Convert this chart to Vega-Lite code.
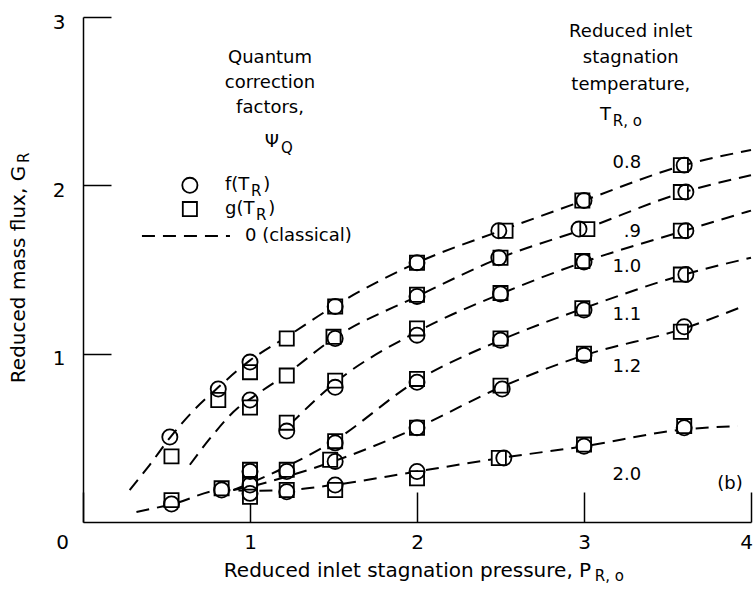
{
  "$schema": "https://vega.github.io/schema/vega-lite/v6.json",
  "width": 668,
  "height": 505,
  "autosize": {"type": "none"},
  "padding": {"left": 83, "top": 17, "right": 5, "bottom": 71},
  "background": "white",
  "config": {"view": {"stroke": null}, "font": "DejaVu Sans"},
  "datasets": {
    "curves": [
      {"s": "0.8", "P": 0.28, "G": 0.19}, {"s": "0.8", "P": 0.40, "G": 0.34}, {"s": "0.8", "P": 0.52, "G": 0.50}, {"s": "0.8", "P": 0.66, "G": 0.66}, {"s": "0.8", "P": 0.81, "G": 0.80}, {"s": "0.8", "P": 1.0, "G": 0.96}, {"s": "0.8", "P": 1.22, "G": 1.10}, {"s": "0.8", "P": 1.5, "G": 1.28}, {"s": "0.8", "P": 2.0, "G": 1.54}, {"s": "0.8", "P": 2.5, "G": 1.73}, {"s": "0.8", "P": 3.0, "G": 1.91}, {"s": "0.8", "P": 3.6, "G": 2.12}, {"s": "0.8", "P": 4.0, "G": 2.21},
      {"s": "0.9", "P": 0.64, "G": 0.34}, {"s": "0.9", "P": 0.78, "G": 0.52}, {"s": "0.9", "P": 0.93, "G": 0.68}, {"s": "0.9", "P": 1.0, "G": 0.73}, {"s": "0.9", "P": 1.22, "G": 0.88}, {"s": "0.9", "P": 1.5, "G": 1.09}, {"s": "0.9", "P": 2.0, "G": 1.34}, {"s": "0.9", "P": 2.5, "G": 1.57}, {"s": "0.9", "P": 3.0, "G": 1.74}, {"s": "0.9", "P": 3.6, "G": 1.96}, {"s": "0.9", "P": 4.0, "G": 2.06},
      {"s": "1.0", "P": 1.24, "G": 0.58}, {"s": "1.0", "P": 1.5, "G": 0.82}, {"s": "1.0", "P": 2.0, "G": 1.13}, {"s": "1.0", "P": 2.5, "G": 1.355}, {"s": "1.0", "P": 3.0, "G": 1.545}, {"s": "1.0", "P": 3.6, "G": 1.73}, {"s": "1.0", "P": 4.0, "G": 1.85},
      {"s": "1.1", "P": 0.9, "G": 0.19}, {"s": "1.1", "P": 1.0, "G": 0.23}, {"s": "1.1", "P": 1.22, "G": 0.33}, {"s": "1.1", "P": 1.5, "G": 0.48}, {"s": "1.1", "P": 2.0, "G": 0.84}, {"s": "1.1", "P": 2.5, "G": 1.08}, {"s": "1.1", "P": 3.0, "G": 1.27}, {"s": "1.1", "P": 3.6, "G": 1.47}, {"s": "1.1", "P": 4.0, "G": 1.57},
      {"s": "1.2", "P": 0.9, "G": 0.19}, {"s": "1.2", "P": 1.0, "G": 0.21}, {"s": "1.2", "P": 1.22, "G": 0.27}, {"s": "1.2", "P": 1.5, "G": 0.36}, {"s": "1.2", "P": 2.0, "G": 0.56}, {"s": "1.2", "P": 2.5, "G": 0.80}, {"s": "1.2", "P": 3.0, "G": 0.99}, {"s": "1.2", "P": 3.6, "G": 1.15}, {"s": "1.2", "P": 3.95, "G": 1.28},
      {"s": "2.0", "P": 0.32, "G": 0.06}, {"s": "2.0", "P": 0.55, "G": 0.11}, {"s": "2.0", "P": 0.83, "G": 0.19}, {"s": "2.0", "P": 1.0, "G": 0.185}, {"s": "2.0", "P": 1.22, "G": 0.19}, {"s": "2.0", "P": 1.5, "G": 0.22}, {"s": "2.0", "P": 2.0, "G": 0.30}, {"s": "2.0", "P": 2.5, "G": 0.38}, {"s": "2.0", "P": 3.0, "G": 0.45}, {"s": "2.0", "P": 3.6, "G": 0.55}, {"s": "2.0", "P": 3.92, "G": 0.57}
    ],
    "markers": [
      {"s": "0.8", "k": "f", "P": 0.52, "G": 0.505}, {"s": "0.8", "k": "g", "P": 0.53, "G": 0.39}, {"s": "0.8", "k": "f", "P": 0.81, "G": 0.79}, {"s": "0.8", "k": "g", "P": 0.81, "G": 0.725}, {"s": "0.8", "k": "f", "P": 1.0, "G": 0.95}, {"s": "0.8", "k": "g", "P": 1.0, "G": 0.89}, {"s": "0.8", "k": "g", "P": 1.22, "G": 1.09}, {"s": "0.8", "k": "f", "P": 1.51, "G": 1.28}, {"s": "0.8", "k": "g", "P": 1.51, "G": 1.28}, {"s": "0.8", "k": "f", "P": 2.0, "G": 1.54}, {"s": "0.8", "k": "g", "P": 2.0, "G": 1.54}, {"s": "0.8", "k": "f", "P": 2.49, "G": 1.73}, {"s": "0.8", "k": "g", "P": 2.53, "G": 1.73}, {"s": "0.8", "k": "f", "P": 3.0, "G": 1.91}, {"s": "0.8", "k": "g", "P": 2.99, "G": 1.91}, {"s": "0.8", "k": "f", "P": 3.6, "G": 2.12}, {"s": "0.8", "k": "g", "P": 3.58, "G": 2.12},
      {"s": "0.9", "k": "f", "P": 1.0, "G": 0.725}, {"s": "0.9", "k": "g", "P": 1.0, "G": 0.68}, {"s": "0.9", "k": "g", "P": 1.22, "G": 0.87}, {"s": "0.9", "k": "f", "P": 1.51, "G": 1.09}, {"s": "0.9", "k": "g", "P": 1.5, "G": 1.10}, {"s": "0.9", "k": "f", "P": 2.0, "G": 1.34}, {"s": "0.9", "k": "g", "P": 2.0, "G": 1.35}, {"s": "0.9", "k": "f", "P": 2.49, "G": 1.57}, {"s": "0.9", "k": "g", "P": 2.5, "G": 1.57}, {"s": "0.9", "k": "f", "P": 2.97, "G": 1.74}, {"s": "0.9", "k": "g", "P": 3.02, "G": 1.74}, {"s": "0.9", "k": "g", "P": 3.58, "G": 1.96}, {"s": "0.9", "k": "f", "P": 3.61, "G": 1.96},
      {"s": "1.0", "k": "f", "P": 1.22, "G": 0.54}, {"s": "1.0", "k": "g", "P": 1.22, "G": 0.59}, {"s": "1.0", "k": "f", "P": 1.51, "G": 0.80}, {"s": "1.0", "k": "g", "P": 1.51, "G": 0.84}, {"s": "1.0", "k": "f", "P": 2.0, "G": 1.11}, {"s": "1.0", "k": "g", "P": 2.0, "G": 1.15}, {"s": "1.0", "k": "f", "P": 2.5, "G": 1.355}, {"s": "1.0", "k": "g", "P": 2.5, "G": 1.36}, {"s": "1.0", "k": "f", "P": 3.0, "G": 1.545}, {"s": "1.0", "k": "g", "P": 2.99, "G": 1.55}, {"s": "1.0", "k": "g", "P": 3.58, "G": 1.73}, {"s": "1.0", "k": "f", "P": 3.61, "G": 1.73},
      {"s": "1.1", "k": "f", "P": 1.0, "G": 0.30}, {"s": "1.1", "k": "g", "P": 1.0, "G": 0.31}, {"s": "1.1", "k": "f", "P": 1.22, "G": 0.30}, {"s": "1.1", "k": "g", "P": 1.22, "G": 0.31}, {"s": "1.1", "k": "f", "P": 1.51, "G": 0.47}, {"s": "1.1", "k": "g", "P": 1.51, "G": 0.48}, {"s": "1.1", "k": "f", "P": 2.0, "G": 0.83}, {"s": "1.1", "k": "g", "P": 2.0, "G": 0.85}, {"s": "1.1", "k": "f", "P": 2.5, "G": 1.08}, {"s": "1.1", "k": "g", "P": 2.5, "G": 1.09}, {"s": "1.1", "k": "f", "P": 3.0, "G": 1.26}, {"s": "1.1", "k": "g", "P": 2.99, "G": 1.27}, {"s": "1.1", "k": "g", "P": 3.58, "G": 1.47}, {"s": "1.1", "k": "f", "P": 3.61, "G": 1.47},
      {"s": "1.2", "k": "f", "P": 1.0, "G": 0.22}, {"s": "1.2", "k": "g", "P": 1.0, "G": 0.22}, {"s": "1.2", "k": "f", "P": 1.51, "G": 0.36}, {"s": "1.2", "k": "g", "P": 1.48, "G": 0.37}, {"s": "1.2", "k": "f", "P": 2.0, "G": 0.56}, {"s": "1.2", "k": "g", "P": 2.0, "G": 0.56}, {"s": "1.2", "k": "g", "P": 2.5, "G": 0.81}, {"s": "1.2", "k": "f", "P": 2.51, "G": 0.79}, {"s": "1.2", "k": "f", "P": 3.0, "G": 0.99}, {"s": "1.2", "k": "g", "P": 3.0, "G": 1.0}, {"s": "1.2", "k": "g", "P": 3.58, "G": 1.13}, {"s": "1.2", "k": "f", "P": 3.6, "G": 1.16},
      {"s": "2.0", "k": "f", "P": 0.53, "G": 0.107}, {"s": "2.0", "k": "g", "P": 0.53, "G": 0.13}, {"s": "2.0", "k": "g", "P": 0.83, "G": 0.20}, {"s": "2.0", "k": "f", "P": 0.83, "G": 0.19}, {"s": "2.0", "k": "f", "P": 1.0, "G": 0.17}, {"s": "2.0", "k": "g", "P": 1.0, "G": 0.15}, {"s": "2.0", "k": "f", "P": 1.22, "G": 0.18}, {"s": "2.0", "k": "g", "P": 1.22, "G": 0.19}, {"s": "2.0", "k": "f", "P": 1.51, "G": 0.22}, {"s": "2.0", "k": "g", "P": 1.51, "G": 0.19}, {"s": "2.0", "k": "f", "P": 2.0, "G": 0.30}, {"s": "2.0", "k": "g", "P": 2.0, "G": 0.26}, {"s": "2.0", "k": "g", "P": 2.49, "G": 0.38}, {"s": "2.0", "k": "f", "P": 2.52, "G": 0.38}, {"s": "2.0", "k": "f", "P": 3.0, "G": 0.45}, {"s": "2.0", "k": "g", "P": 3.0, "G": 0.46}, {"s": "2.0", "k": "f", "P": 3.6, "G": 0.56}, {"s": "2.0", "k": "g", "P": 3.6, "G": 0.57}
    ],
    "legendMarks": [
      {"k": "f", "P": 0.64, "G": 2.0},
      {"k": "g", "P": 0.64, "G": 1.859}
    ],
    "legendLine": [{"P": 0.353, "P2": 0.88, "G": 1.699}],
    "centerText": [
      {"P": 1.12, "G": 2.757, "text": "Quantum"},
      {"P": 1.12, "G": 2.608, "text": "correction"},
      {"P": 1.12, "G": 2.459, "text": "factors,"},
      {"P": 1.13, "G": 2.257, "text": "Ψ"},
      {"P": 3.28, "G": 2.911, "text": "Reduced inlet"},
      {"P": 3.28, "G": 2.757, "text": "stagnation"},
      {"P": 3.28, "G": 2.596, "text": "temperature,"},
      {"P": 3.257, "G": 2.133, "text": "0.8"},
      {"P": 3.29, "G": 1.723, "text": ".9"},
      {"P": 3.257, "G": 1.515, "text": "1.0"},
      {"P": 3.257, "G": 1.23, "text": "1.1"},
      {"P": 3.257, "G": 0.921, "text": "1.2"},
      {"P": 3.257, "G": 0.279, "text": "2.0"},
      {"P": 3.874, "G": 0.226, "text": "(b)"}
    ],
    "leftText": [
      {"P": 0.85, "G": 2.0, "text": "f(T"},
      {"P": 1.08, "G": 2.0, "text": ")"},
      {"P": 0.85, "G": 1.859, "text": "g(T"},
      {"P": 1.11, "G": 1.859, "text": ")"},
      {"P": 0.97, "G": 1.699, "text": "0 (classical)"},
      {"P": 3.096, "G": 2.418, "text": "T"}
    ],
    "subText": [
      {"P": 1.006, "G": 2.0, "text": "R"},
      {"P": 1.036, "G": 1.859, "text": "R"},
      {"P": 1.185, "G": 2.257, "text": "Q"},
      {"P": 3.172, "G": 2.418, "text": "R, o"},
      {"P": 3.065, "G": -0.285, "text": "R, o"}
    ],
    "ySub": [{"P": -0.353, "G": 2.133, "text": "R"}]
  },
  "encoding": {
    "x": {
      "field": "P", "type": "quantitative",
      "scale": {"domain": [0, 4], "nice": false, "zero": false},
      "axis": {
        "title": "Reduced inlet stagnation pressure, P",
        "values": [0, 1, 2, 3, 4],
        "grid": false,
        "domainColor": "black", "domainWidth": 1.5,
        "tickColor": "black", "tickWidth": 1.5, "tickSize": -30,
        "labelPadding": 40, "labelFont": "DejaVu Sans", "labelFontSize": 20, "labelColor": "black",
        "labelOverlap": false, "labelFlush": false,
        "labelOffset": {"condition": [{"test": "datum.value == 0", "value": -21}, {"test": "datum.value == 4", "value": -5}], "value": 0},
        "titleFont": "DejaVu Sans", "titleFontSize": 20, "titleFontWeight": "normal", "titleColor": "black",
        "titleX": 324, "titleY": 48, "titleBaseline": "middle", "titleAlign": "center"
      }
    },
    "y": {
      "field": "G", "type": "quantitative",
      "scale": {"domain": [0, 3], "nice": false},
      "axis": {
        "title": "Reduced mass flux, G",
        "values": [1, 2, 3],
        "grid": false,
        "domainColor": "black", "domainWidth": 1.5,
        "tickColor": "black", "tickWidth": 1.5, "tickSize": -28,
        "labelPadding": 46, "labelFont": "DejaVu Sans", "labelFontSize": 20, "labelColor": "black",
        "labelOverlap": false, "labelFlush": false, "labelOffset": 5,
        "titleFont": "DejaVu Sans", "titleFontSize": 20, "titleFontWeight": "normal", "titleColor": "black",
        "titleX": -65, "titleY": 257, "titleBaseline": "middle", "titleAlign": "center", "titleAngle": 270
      }
    }
  },
  "layer": [
    {
      "data": {"name": "curves"},
      "mark": {"type": "line", "interpolate": "monotone", "color": "black", "strokeWidth": 2, "strokeDash": [13, 8]},
      "encoding": {"detail": {"field": "s"}}
    },
    {
      "data": {"name": "legendLine"},
      "mark": {"type": "rule", "color": "black", "strokeWidth": 2, "strokeDash": [13, 8]},
      "encoding": {"x2": {"field": "P2"}}
    },
    {
      "data": {"name": "markers"},
      "transform": [{"filter": "datum.k == 'g'"}],
      "mark": {"type": "point", "shape": "square", "filled": true, "fill": "white", "stroke": "black", "strokeWidth": 1.8, "size": 200, "opacity": 1}
    },
    {
      "data": {"name": "markers"},
      "transform": [{"filter": "datum.k == 'f'"}],
      "mark": {"type": "point", "shape": "circle", "filled": false, "stroke": "black", "strokeWidth": 1.8, "size": 230, "opacity": 1}
    },
    {
      "data": {"name": "legendMarks"},
      "transform": [{"filter": "datum.k == 'g'"}],
      "mark": {"type": "point", "shape": "square", "filled": false, "stroke": "black", "strokeWidth": 1.8, "size": 200, "opacity": 1}
    },
    {
      "data": {"name": "legendMarks"},
      "transform": [{"filter": "datum.k == 'f'"}],
      "mark": {"type": "point", "shape": "circle", "filled": false, "stroke": "black", "strokeWidth": 1.8, "size": 230, "opacity": 1}
    },
    {
      "data": {"name": "centerText"},
      "mark": {"type": "text", "font": "DejaVu Sans", "fontSize": 18, "color": "black", "align": "center", "baseline": "middle"},
      "encoding": {"text": {"field": "text"}}
    },
    {
      "data": {"name": "leftText"},
      "mark": {"type": "text", "font": "DejaVu Sans", "fontSize": 18, "color": "black", "align": "left", "baseline": "middle"},
      "encoding": {"text": {"field": "text"}}
    },
    {
      "data": {"name": "subText"},
      "mark": {"type": "text", "font": "DejaVu Sans", "fontSize": 15, "color": "black", "align": "left", "baseline": "middle", "dy": 6},
      "encoding": {"text": {"field": "text"}}
    },
    {
      "data": {"name": "ySub"},
      "mark": {"type": "text", "font": "DejaVu Sans", "fontSize": 15, "color": "black", "align": "left", "baseline": "middle", "angle": 270},
      "encoding": {"text": {"field": "text"}}
    }
  ]
}
